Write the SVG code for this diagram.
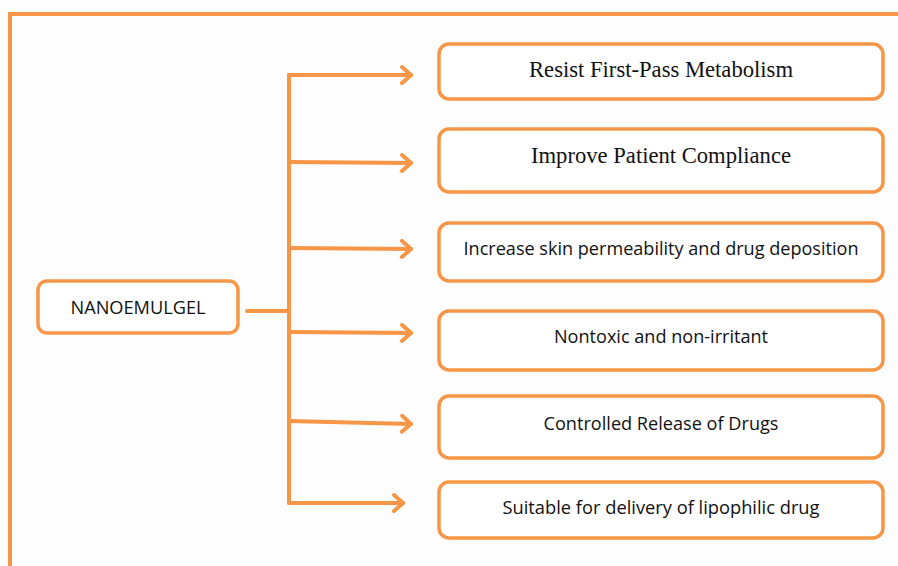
<svg xmlns="http://www.w3.org/2000/svg" width="898" height="566" viewBox="0 0 898 566">
<style>
.box{fill:#fff;stroke:#F79646;stroke-width:3.5}
.ln{fill:none;stroke:#F79646;stroke-width:4;stroke-linecap:round;stroke-linejoin:round}
.serif{font-family:"Liberation Serif","Times New Roman",serif;font-size:22.5px;fill:#111;text-anchor:middle}
.sans{font-family:"Open Sans","Liberation Sans",sans-serif;font-size:18px;fill:#111;text-anchor:middle}
</style>
<defs>
<marker id="ah" viewBox="0 0 20 20" refX="17" refY="10" markerWidth="20" markerHeight="20" markerUnits="userSpaceOnUse" orient="auto">
<polyline points="8,2 17,10 8,18" fill="none" stroke="#F79646" stroke-width="4" stroke-linecap="round" stroke-linejoin="round"/>
</marker>
</defs>
<rect width="898" height="566" fill="#FDFDFD"/>
<polyline points="10,566 10,14 898,14" fill="none" stroke="#F79646" stroke-width="4"/>
<g id="connectors">
<line class="ln" x1="247" y1="311" x2="289" y2="311"/>
<line class="ln" x1="289" y1="75" x2="289" y2="503"/>
<line class="ln" x1="289" y1="75" x2="411" y2="75" marker-end="url(#ah)"/>
<line class="ln" x1="289" y1="162" x2="411" y2="163" marker-end="url(#ah)"/>
<line class="ln" x1="289" y1="248" x2="411" y2="249" marker-end="url(#ah)"/>
<line class="ln" x1="289" y1="332" x2="411" y2="333" marker-end="url(#ah)"/>
<line class="ln" x1="289" y1="421" x2="411" y2="424" marker-end="url(#ah)"/>
<line class="ln" x1="289" y1="503" x2="403" y2="503" marker-end="url(#ah)"/>
</g>
<g id="nanoemulgel">
<rect class="box" x="38" y="281" width="200" height="52" rx="9"/>
<text class="sans" x="138" y="314" textLength="135" lengthAdjust="spacingAndGlyphs">NANOEMULGEL</text>
</g>
<g id="resist">
<rect class="box" x="439" y="44" width="444" height="55" rx="10"/>
<text class="serif" x="661" y="77" textLength="264" lengthAdjust="spacingAndGlyphs">Resist First-Pass Metabolism</text>
</g>
<g id="improve">
<rect class="box" x="439" y="129" width="444" height="63" rx="10"/>
<text class="serif" x="661" y="163" textLength="260" lengthAdjust="spacingAndGlyphs">Improve Patient Compliance</text>
</g>
<g id="increase">
<rect class="box" x="439" y="223" width="444" height="58" rx="10"/>
<text class="sans" x="661" y="255" textLength="395" lengthAdjust="spacingAndGlyphs">Increase skin permeability and drug deposition</text>
</g>
<g id="nontoxic">
<rect class="box" x="439" y="311" width="444" height="59" rx="10"/>
<text class="sans" x="661" y="343" textLength="214" lengthAdjust="spacingAndGlyphs">Nontoxic and non-irritant</text>
</g>
<g id="controlled">
<rect class="box" x="439" y="396" width="444" height="62" rx="10"/>
<text class="sans" x="661" y="430" textLength="235" lengthAdjust="spacingAndGlyphs">Controlled Release of Drugs</text>
</g>
<g id="suitable">
<rect class="box" x="439" y="482" width="444" height="56" rx="10"/>
<text class="sans" x="661" y="514" textLength="317" lengthAdjust="spacingAndGlyphs">Suitable for delivery of lipophilic drug</text>
</g>
</svg>
